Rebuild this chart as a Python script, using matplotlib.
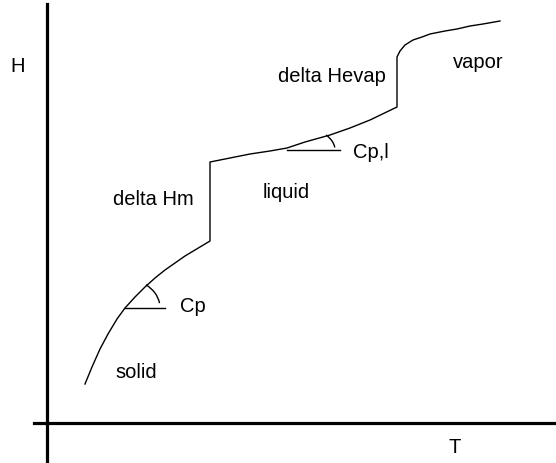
import matplotlib
matplotlib.use('Agg')
import matplotlib.pyplot as plt
from matplotlib.patches import Arc

# Schematic H-T curve (arbitrary units, origin at the axes crossing)
solid_T = [38, 45, 53, 61, 70, 78, 88, 98, 108, 118, 128, 138, 148, 163]
solid_H = [39, 56, 74, 89, 104, 115, 126, 136, 145, 153, 160, 167, 173, 182]
liquid_T = [163, 163, 183, 203, 223, 240, 258, 283, 303, 323, 350]
liquid_H = [182, 261, 265, 269, 272, 275, 281, 288, 295, 303, 316]
vapor_T = [350, 350, 353, 358, 366, 375, 383, 398, 410, 423, 436, 453]
vapor_H = [316, 366, 372, 378, 383, 386, 389, 392, 394, 397, 399, 402]

# tangent markers (point, length of horizontal)
cp_solid = (78, 115, 40)
cp_liquid = (240, 273, 53)

labels = ['H', 'T', 'delta Hm', 'liquid', 'Cp', 'solid', 'delta Hevap', 'vapor', 'Cp,l']
label_T = [-29, 408, 66, 216, 133, 68, 231, 406, 306]
label_H = [358, -24, 224, 231, 117, 51, 347, 362, 271]
label_ha = ['center', 'center', 'left', 'left', 'left', 'left', 'left', 'left', 'left']

plt.rcParams['font.family'] = ['Liberation Sans', 'DejaVu Sans']

fig = plt.figure(figsize=(5.56, 4.64), dpi=100)
ax = fig.add_axes([0, 0, 1, 1])
ax.set_xlim(-47, 509)
ax.set_ylim(-40, 424)

lw = 1.0
ax.plot(solid_T + liquid_T[1:] + vapor_T[1:], solid_H + liquid_H[1:] + vapor_H[1:],
        color='black', linewidth=lw)

# slope markers
for (t0, h0, length), (w, h, th1, th2) in zip([cp_solid, cp_liquid],
                                              [(70, 58, 8, 48), (96, 52, 3, 21)]):
    ax.plot([t0, t0 + length], [h0, h0], color='black', linewidth=lw)
    ax.add_patch(Arc((t0, h0), w, h, theta1=th1, theta2=th2, color='black', linewidth=lw))

for txt, t, hh, ha in zip(labels, label_T, label_H, label_ha):
    ax.text(t, hh, txt, ha=ha, va='center', fontsize=14.5, color='black')

# axes drawn as crossing lines
for side in ['top', 'right']:
    ax.spines[side].set_visible(False)
ax.spines['left'].set_position(('data', 0))
ax.spines['bottom'].set_position(('data', 0))
ax.spines['left'].set_bounds(-40, 419)
ax.spines['bottom'].set_bounds(-13, 509)
ax.spines['left'].set_linewidth(2.3)
ax.spines['bottom'].set_linewidth(2.3)
ax.set_xticks([])
ax.set_yticks([])

plt.savefig('out.png', dpi=100)
